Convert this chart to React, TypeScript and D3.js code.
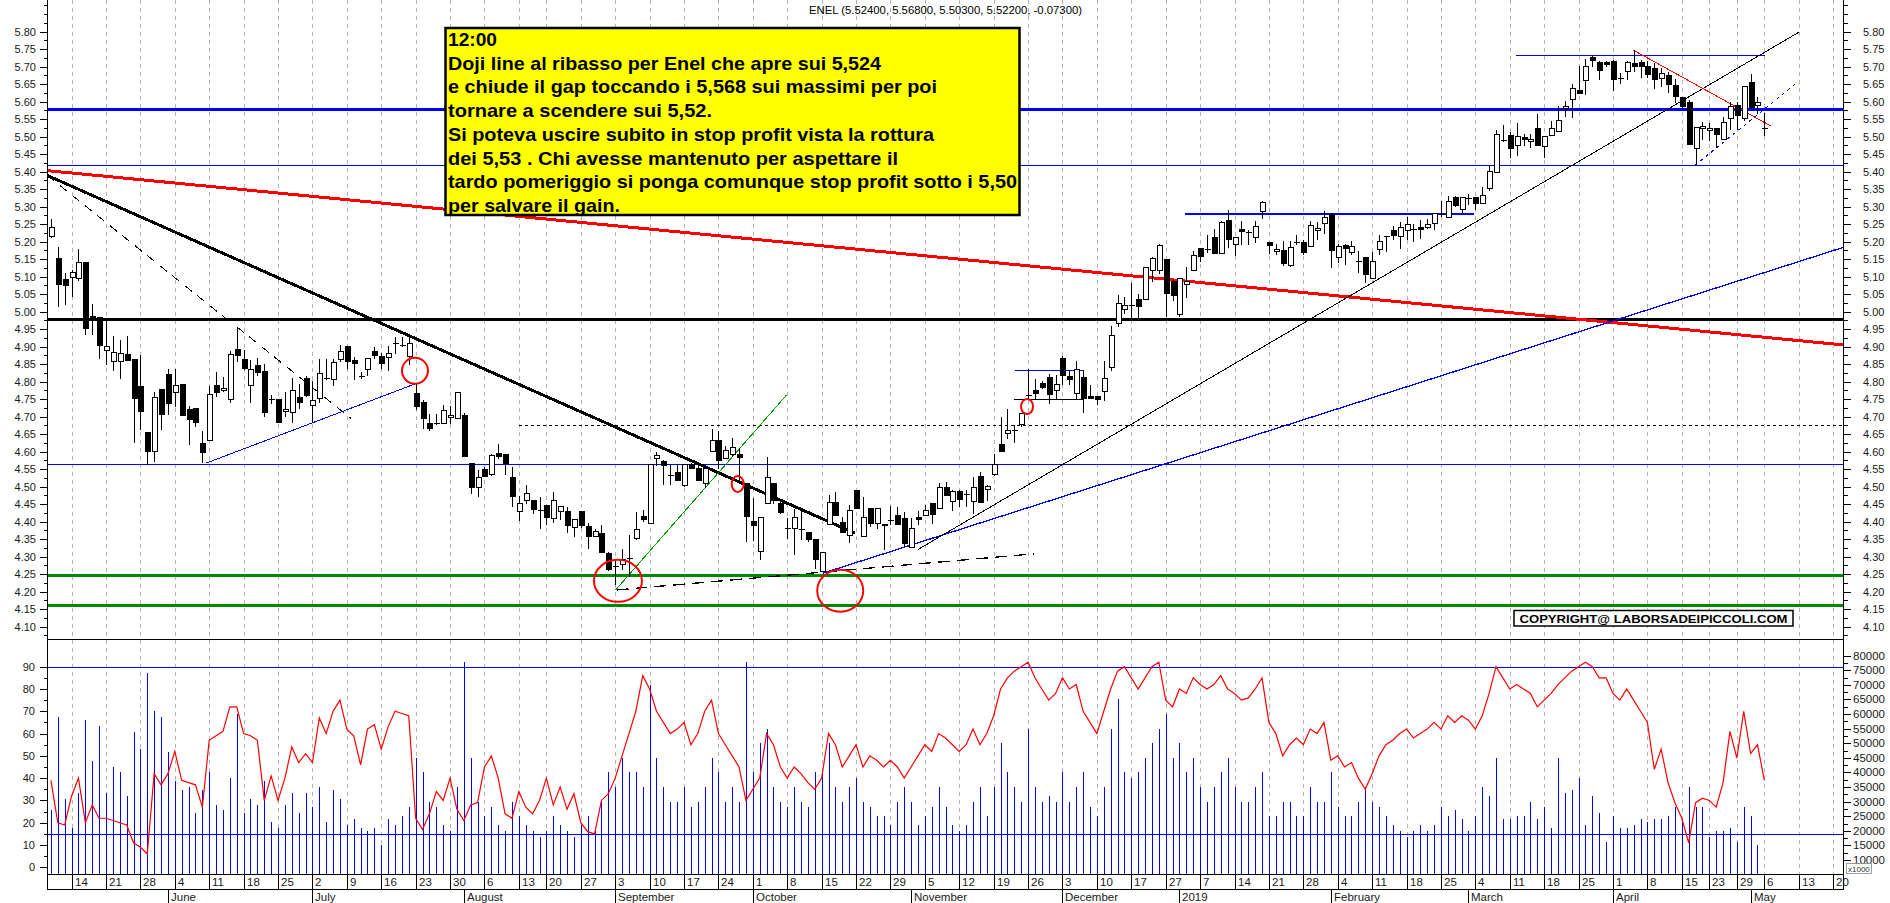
import React from "react";
import * as d3 from "d3";

// ---------------- DATA ----------------
const START_DATE = "2018-05-09";
const HOLIDAYS = ["2018-08-15", "2018-12-24", "2018-12-25", "2018-12-26", "2018-12-31", "2019-01-01", "2019-04-19", "2019-04-22", "2019-05-01"];
const N_SLOTS = 261; // bars + empty future slots on the x axis

const OPEN = [5.216,5.152,5.092,5.098,5.094,5.140,4.985,4.984,4.889,4.858,4.858,4.877,4.864,4.786,4.654,4.601,4.778,4.822,4.769,4.793,4.721,4.723,4.624,4.633,4.789,4.774,4.749,4.892,4.864,4.788,4.845,4.828,4.750,4.748,4.715,4.711,4.755,4.809,4.732,4.751,4.810,4.805,4.864,4.902,4.862,4.816,4.835,4.887,4.871,4.868,4.911,4.906,4.871,4.767,4.742,4.681,4.681,4.681,4.698,4.694,4.704,4.567,4.498,4.548,4.534,4.595,4.593,4.527,4.430,4.460,4.462,4.432,4.447,4.409,4.428,4.428,4.384,4.428,4.386,4.359,4.365,4.310,4.272,4.279,4.294,4.353,4.414,4.395,4.580,4.571,4.534,4.542,4.504,4.563,4.551,4.508,4.601,4.633,4.580,4.592,4.592,4.508,4.401,4.315,4.452,4.508,4.452,4.381,4.380,4.378,4.369,4.348,4.258,4.393,4.456,4.399,4.361,4.489,4.357,4.437,4.395,4.393,4.405,4.418,4.409,4.327,4.411,4.418,4.451,4.439,4.498,4.458,4.485,4.478,4.458,4.529,4.491,4.534,4.622,4.652,4.661,4.679,4.761,4.774,4.795,4.811,4.774,4.866,4.814,4.767,4.811,4.759,4.757,4.773,4.841,4.967,5.007,5.014,5.035,5.035,5.117,5.119,5.150,5.085,4.992,5.077,5.119,5.180,5.179,5.212,5.165,5.260,5.193,5.235,5.228,5.212,5.285,5.197,5.171,5.174,5.131,5.200,5.197,5.186,5.233,5.251,5.277,5.155,5.189,5.170,5.144,5.155,5.096,5.178,5.216,5.231,5.216,5.231,5.235,5.241,5.241,5.252,5.279,5.269,5.326,5.292,5.326,5.326,5.309,5.353,5.399,5.490,5.504,5.475,5.498,5.485,5.524,5.471,5.504,5.515,5.580,5.605,5.633,5.660,5.725,5.713,5.711,5.715,5.668,5.686,5.709,5.713,5.700,5.694,5.665,5.675,5.645,5.612,5.599,5.466,5.523,5.519,5.523,5.492,5.553,5.589,5.553,5.656,5.589,5.524];
const HIGH = [5.264,5.184,5.111,5.119,5.178,5.140,5.022,4.984,4.980,4.932,4.919,4.930,4.864,4.877,4.654,4.772,4.778,4.835,4.835,4.793,4.732,4.723,4.660,4.789,4.828,4.814,4.887,4.957,4.892,4.862,4.869,4.850,4.763,4.748,4.772,4.812,4.793,4.816,4.801,4.866,4.866,4.866,4.904,4.902,4.871,4.829,4.866,4.900,4.881,4.902,4.928,4.928,4.934,4.797,4.749,4.709,4.709,4.734,4.730,4.772,4.711,4.567,4.549,4.557,4.593,4.622,4.593,4.555,4.473,4.504,4.462,4.470,4.447,4.485,4.445,4.441,4.407,4.428,4.395,4.378,4.392,4.313,4.290,4.323,4.363,4.428,4.433,4.563,4.599,4.576,4.563,4.565,4.563,4.569,4.559,4.553,4.666,4.660,4.616,4.639,4.612,4.508,4.468,4.412,4.584,4.508,4.460,4.412,4.435,4.432,4.369,4.348,4.312,4.477,4.485,4.414,4.447,4.489,4.470,4.437,4.437,4.393,4.445,4.443,4.428,4.411,4.432,4.449,4.451,4.510,4.513,4.491,4.491,4.492,4.529,4.542,4.506,4.593,4.700,4.721,4.675,4.708,4.835,4.809,4.803,4.822,4.818,4.873,4.833,4.860,4.833,4.790,4.757,4.860,4.959,5.047,5.043,5.081,5.051,5.127,5.155,5.193,5.150,5.092,5.094,5.129,5.174,5.180,5.218,5.235,5.260,5.291,5.212,5.258,5.233,5.258,5.317,5.197,5.193,5.203,5.201,5.220,5.205,5.260,5.256,5.287,5.283,5.193,5.193,5.201,5.174,5.155,5.170,5.220,5.216,5.246,5.256,5.271,5.250,5.262,5.265,5.281,5.315,5.332,5.332,5.325,5.336,5.326,5.357,5.416,5.519,5.534,5.513,5.540,5.507,5.507,5.564,5.500,5.545,5.587,5.601,5.650,5.702,5.723,5.730,5.715,5.715,5.719,5.681,5.715,5.747,5.719,5.715,5.711,5.696,5.686,5.664,5.614,5.604,5.526,5.542,5.540,5.526,5.557,5.599,5.599,5.643,5.679,5.614,5.568];
const LOW = [5.212,5.014,5.018,5.043,5.087,4.934,4.934,4.864,4.847,4.831,4.807,4.858,4.624,4.662,4.561,4.572,4.662,4.706,4.729,4.704,4.620,4.671,4.569,4.633,4.757,4.772,4.738,4.856,4.833,4.740,4.816,4.698,4.736,4.683,4.700,4.683,4.723,4.757,4.683,4.740,4.805,4.788,4.856,4.835,4.805,4.808,4.816,4.864,4.837,4.830,4.879,4.898,4.849,4.719,4.666,4.658,4.675,4.679,4.679,4.694,4.586,4.479,4.470,4.527,4.532,4.580,4.534,4.441,4.403,4.451,4.422,4.378,4.390,4.395,4.405,4.369,4.357,4.382,4.323,4.355,4.312,4.260,4.218,4.262,4.243,4.348,4.399,4.395,4.559,4.504,4.504,4.515,4.498,4.551,4.515,4.496,4.601,4.552,4.578,4.586,4.510,4.342,4.344,4.292,4.452,4.452,4.422,4.350,4.306,4.348,4.342,4.266,4.258,4.393,4.416,4.367,4.340,4.437,4.357,4.386,4.380,4.319,4.390,4.390,4.327,4.327,4.392,4.416,4.393,4.439,4.475,4.430,4.441,4.443,4.422,4.456,4.458,4.531,4.601,4.637,4.624,4.672,4.748,4.750,4.778,4.736,4.750,4.790,4.790,4.750,4.710,4.750,4.734,4.746,4.830,4.957,4.993,4.978,4.978,5.035,5.085,5.108,4.986,5.032,4.986,5.039,5.119,5.142,5.169,5.167,5.165,5.182,5.159,5.190,5.192,5.197,5.266,5.165,5.163,5.132,5.129,5.190,5.163,5.184,5.205,5.222,5.126,5.140,5.134,5.163,5.110,5.081,5.096,5.161,5.172,5.205,5.180,5.205,5.199,5.208,5.235,5.233,5.271,5.269,5.300,5.281,5.304,5.290,5.309,5.344,5.397,5.486,5.439,5.446,5.473,5.469,5.475,5.439,5.504,5.515,5.555,5.553,5.622,5.620,5.698,5.662,5.700,5.631,5.652,5.662,5.685,5.669,5.669,5.637,5.643,5.624,5.595,5.582,5.475,5.418,5.492,5.488,5.469,5.492,5.519,5.519,5.544,5.580,5.565,5.503];
const CLOSE = [5.241,5.078,5.075,5.113,5.142,4.951,4.980,4.904,4.902,4.883,4.881,4.860,4.751,4.715,4.601,4.755,4.706,4.738,4.789,4.704,4.692,4.683,4.597,4.763,4.770,4.782,4.877,4.875,4.837,4.835,4.826,4.713,4.746,4.683,4.721,4.774,4.742,4.761,4.746,4.824,4.808,4.856,4.887,4.858,4.852,4.812,4.866,4.875,4.852,4.881,4.908,4.904,4.909,4.729,4.694,4.666,4.680,4.717,4.704,4.770,4.586,4.498,4.527,4.529,4.590,4.586,4.565,4.472,4.451,4.481,4.435,4.431,4.411,4.460,4.443,4.390,4.407,4.388,4.357,4.372,4.312,4.264,4.270,4.291,4.295,4.378,4.405,4.563,4.588,4.561,4.530,4.519,4.563,4.551,4.517,4.553,4.633,4.574,4.603,4.612,4.584,4.414,4.388,4.412,4.525,4.462,4.426,4.380,4.411,4.374,4.350,4.292,4.312,4.456,4.418,4.369,4.432,4.439,4.412,4.395,4.437,4.388,4.404,4.392,4.338,4.382,4.405,4.433,4.420,4.498,4.475,4.485,4.464,4.477,4.498,4.456,4.502,4.563,4.601,4.660,4.660,4.708,4.763,4.767,4.784,4.763,4.792,4.818,4.805,4.835,4.752,4.753,4.748,4.809,4.932,5.024,5.017,5.018,5.016,5.127,5.152,5.190,5.052,5.047,5.094,5.087,5.161,5.157,5.178,5.167,5.254,5.205,5.211,5.228,5.227,5.243,5.311,5.190,5.178,5.138,5.184,5.199,5.169,5.245,5.239,5.268,5.174,5.187,5.180,5.187,5.140,5.106,5.144,5.201,5.214,5.218,5.241,5.250,5.234,5.235,5.250,5.281,5.275,5.315,5.304,5.325,5.323,5.309,5.332,5.401,5.507,5.486,5.465,5.500,5.492,5.492,5.475,5.500,5.523,5.547,5.585,5.637,5.624,5.702,5.717,5.690,5.706,5.664,5.667,5.711,5.700,5.700,5.679,5.664,5.681,5.648,5.614,5.587,5.479,5.526,5.528,5.524,5.507,5.542,5.585,5.561,5.643,5.584,5.599,5.522];

// volume in thousands of shares
const VOLUME = [27,59,31,21,33,58,44,56,33,42,40,32,54,48,74,61,59,47,37,34,35,26,34,40,29,27,38,60,26,31,29,37,23,21,29,33,26,33,28,35,23,34,31,22,24,21,20,21,15,24,22,25,28,45,40,30,28,22,20,35,78,45,30,25,28,22,20,30,25,22,20,18,20,25,22,20,18,22,25,20,30,40,35,45,40,40,35,70,45,35,30,30,35,28,30,35,45,40,30,35,30,78,40,50,55,35,30,28,35,30,28,40,40,50,35,30,35,38,30,28,25,25,22,30,35,30,22,25,28,35,28,22,20,22,30,35,25,35,50,40,35,30,55,35,30,32,30,40,30,35,40,28,25,35,55,65,40,38,40,45,50,55,60,45,50,40,45,35,30,35,40,45,35,30,30,35,40,25,25,30,30,25,25,35,30,30,40,28,25,25,30,35,30,28,25,22,20,18,20,22,20,22,28,25,27,24,20,25,35,32,45,24,24,25,25,30,24,28,21,45,33,34,38,22,32,26,16,25,21,21,22,24,23,24,24,25,28,24,35,28,28,18,20,20,21,16,28,25,15,4];
const RSI = [39,20,19,32,40,20,28,22,22,21,20,19,11,9,6,42,37,42,52,39,38,37,27,57,59,61,72,72,60,59,57,30,41,30,40,54,47,51,47,67,60,70,75,62,59,46,62,64,53,63,70,69,68,22,17,24,34,30,40,26,21,28,29,45,50,40,24,22,34,27,24,30,40,28,36,26,33,20,16,15,30,33,40,50,60,70,86,80,70,65,60,62,65,55,60,70,75,60,55,50,45,30,35,40,60,55,45,40,45,42,38,35,40,60,55,45,50,55,45,50,48,45,48,45,40,45,50,55,52,60,58,55,52,55,62,55,60,68,80,85,88,90,92,85,80,75,78,85,80,82,70,65,60,70,80,88,90,85,80,85,90,92,75,72,80,78,85,82,80,82,86,80,78,75,76,80,85,65,60,50,55,58,55,62,60,65,48,50,45,47,40,35,42,50,55,57,60,62,58,60,62,65,62,68,65,68,66,62,68,78,90,85,80,82,80,78,72,75,78,82,85,88,90,92,90,85,85,78,75,80,75,70,65,44,53,38,29,22,11,29,31,30,27,38,61,49,70,51,55,39];

const PRICE_TICKS = d3.range(4.10, 5.8001, 0.05);
const PRICE_MINOR = d3.range(4.075, 5.89, 0.025);
const RSI_TICKS = [0, 10, 20, 30, 40, 50, 60, 70, 80, 90];
const VOL_TICKS = [10, 15, 20, 25, 30, 35, 40, 45, 50, 55, 60, 65, 70, 75, 80];
const MONTH_NAMES = ["January", "February", "March", "April", "May", "June", "July", "August", "September", "October", "November", "December"];

const TITLE = "ENEL (5.52400, 5.56800, 5.50300, 5.52200, -0.07300)";
const NOTE_LINES = [
  "12:00",
  "Doji line al ribasso per Enel che apre sui 5,524",
  "e chiude il gap toccando i 5,568 sui massimi per poi",
  "tornare a scendere sui 5,52.",
  "Si poteva uscire subito in stop profit vista la rottura",
  "dei 5,53 . Chi avesse mantenuto per aspettare il",
  "tardo pomeriggio si ponga comunque stop profit sotto i 5,50",
  "per salvare il gain.",
];
const NOTE_WIDTHS = [49, 433, 489, 264, 486, 450, 569, 172];
const COPYRIGHT = "COPYRIGHT@ LABORSADEIPICCOLI.COM";

type Seg = { a: [number, number]; b: [number, number]; color: string; w: number; dash?: string };
const TREND_LINES: Seg[] = [
  { a: [-0.5, 5.403], b: [260.5, 4.905], color: "#ff0000", w: 3 },
  { a: [-0.5, 5.389], b: [116.85, 4.367], color: "#000", w: 3 },
  { a: [-0.5, 5.389], b: [25.7, 4.976], color: "#000", w: 1, dash: "9,7" },
  { a: [27, 4.957], b: [43.6, 4.695], color: "#000", w: 1, dash: "9,7" },
  { a: [22.5, 4.567], b: [53.1, 4.795], color: "#0000ff", w: 1 },
  { a: [82.06, 4.205], b: [106.9, 4.762], color: "#009900", w: 1 },
  { a: [82.2, 4.205], b: [142.8, 4.308], color: "#000", w: 1.3, dash: "12,7" },
  { a: [112.2, 4.253], b: [260.5, 5.184], color: "#0000ff", w: 1.3 },
  { a: [126.05, 4.321], b: [253.96, 5.798], color: "#000", w: 1 },
  { a: [229.9, 5.748], b: [249.9, 5.531], color: "#ff0000", w: 1 },
  { a: [238.9, 5.418], b: [253.9, 5.657], color: "#0000ff", w: 1, dash: "3,4" },
];
type HLine = { p: number; from: number; to: number; color: string; w: number; dash?: string };
const H_LINES: HLine[] = [
  { p: 5.579, from: -0.5, to: 260.5, color: "#0000ff", w: 3 },
  { p: 5.418, from: -0.5, to: 260.5, color: "#0000ff", w: 1.3 },
  { p: 4.977, from: -0.5, to: 260.5, color: "#000", w: 3 },
  { p: 4.675, from: 67.96, to: 260.5, color: "#000", w: 1, dash: "3,3" },
  { p: 4.564, from: -0.5, to: 260.5, color: "#0000ff", w: 1.3 },
  { p: 4.245, from: -0.5, to: 260.5, color: "#008800", w: 3 },
  { p: 4.160, from: -0.5, to: 260.5, color: "#008800", w: 3 },
  { p: 4.833, from: 140.1, to: 150.0, color: "#0000ff", w: 1.3 },
  { p: 4.750, from: 139.96, to: 150.0, color: "#000", w: 1.3 },
  { p: 5.279, from: 164.8, to: 206.8, color: "#0000ff", w: 1.3 },
  { p: 5.733, from: 212.9, to: 249.1, color: "#0000ff", w: 1.3 },
];
type Ell = { i: number; p: number; rx: number; ry: number };
const CIRCLES: Ell[] = [
  { i: 52.9, p: 4.831, rx: 13, ry: 13 },
  { i: 99.8, p: 4.508, rx: 6, ry: 8 },
  { i: 141.85, p: 4.729, rx: 6, ry: 7.5 },
  { i: 82.4, p: 4.231, rx: 24, ry: 21 },
  { i: 114.7, p: 4.203, rx: 23, ry: 21 },
];

// ---------------- LAYOUT ----------------
const W = 1890, H = 903;
const AX_L = 47.5, AX_R = 1843.5;
const PRICE_SEP = 639.5;
const BOTTOM = 874.5, DATE_SEP = 889.5;
const FONT = "'Liberation Sans', Arial, sans-serif";

function buildDates(n: number): Date[] {
  const hol = new Set(HOLIDAYS);
  const out: Date[] = [];
  let d = new Date(START_DATE + "T12:00:00Z");
  while (out.length < n) {
    const dow = d.getUTCDay();
    const iso = d.toISOString().slice(0, 10);
    if (dow !== 0 && dow !== 6 && !hol.has(iso)) out.push(new Date(d.getTime()));
    d = new Date(d.getTime() + 86400000);
  }
  return out;
}

export default function App() {
  const dates = buildDates(N_SLOTS);
  const x = d3.scaleLinear().domain([-0.5, N_SLOTS - 0.5]).range([AX_L, AX_R]);
  const yP = d3.scaleLinear().domain([4.10, 5.80]).range([626.7, 31.7]);
  const yR = d3.scaleLinear().domain([0, 90]).range([867.3, 666.7]);
  const yV = d3.scaleLinear().domain([10, 80]).range([860, 655.7]);

  const weekTicks: number[] = [];
  const monthTicks: number[] = [];
  let lastWeek = -10;
  for (let i = 1; i < dates.length; i++) {
    const w0 = d3.utcMonday.floor(dates[i - 1]).getTime();
    const w1 = d3.utcMonday.floor(dates[i]).getTime();
    if (w0 !== w1 && i - lastWeek >= 3) { weekTicks.push(i); lastWeek = i; }
    if (dates[i].getUTCMonth() !== dates[i - 1].getUTCMonth()) monthTicks.push(i);
  }
  const px = (i: number) => Math.round(x(i)) + 0.5;

  const rsiLine = d3.line<number>().x((_, i) => x(i)).y((v) => yR(v))(RSI) || "";

  return (
    <svg width={W} height={H} style={{ display: "block", position: "absolute", left: 0, top: 0, background: "#fff" }} fontFamily={FONT}>
      <rect x={0} y={0} width={W} height={H} fill="#fff" />
      {weekTicks.map((i) => (
        <line key={"g" + i} x1={px(i)} x2={px(i)} y1={0} y2={BOTTOM} stroke="#b4b4b4" strokeDasharray="4,4" />
      ))}

      <g shapeRendering="crispEdges">
        {H_LINES.map((h, k) => (
          <line key={"h" + k} x1={x(h.from)} x2={x(h.to)} y1={yP(h.p)} y2={yP(h.p)} stroke={h.color} strokeWidth={h.w} strokeDasharray={h.dash} />
        ))}
      </g>
      <g shapeRendering="crispEdges">
        {TREND_LINES.map((s, k) => (
          <line key={"t" + k} x1={x(s.a[0])} y1={yP(s.a[1])} x2={x(s.b[0])} y2={yP(s.b[1])} stroke={s.color} strokeWidth={s.w} strokeDasharray={s.dash} />
        ))}
      </g>

      <g shapeRendering="crispEdges">
        {OPEN.map((o, i) => {
          const c = CLOSE[i];
          const cx = px(i);
          const top = yP(Math.max(o, c));
          const bot = yP(Math.min(o, c));
          const up = c >= o;
          const h = Math.max(bot - top, 0);
          return (
            <g key={"c" + i}>
              <line x1={cx} x2={cx} y1={yP(HIGH[i])} y2={yP(LOW[i])} stroke="#000" strokeWidth={1} />
              {h < 1.5 ? (
                <line x1={cx - 3} x2={cx + 3} y1={Math.round(top) + 0.5} y2={Math.round(top) + 0.5} stroke="#000" strokeWidth={1.5} />
              ) : (
                <rect x={cx - 2.5} y={top} width={5} height={h} fill={up ? "#fff" : "#000"} stroke="#000" strokeWidth={1} />
              )}
            </g>
          );
        })}
      </g>

      {CIRCLES.map((e, k) => (
        <ellipse key={"e" + k} cx={x(e.i)} cy={yP(e.p)} rx={e.rx} ry={e.ry} fill="none" stroke="#ff0000" strokeWidth={2} />
      ))}

      <text x={809} y={14} fontSize={10} fill="#000" textLength={273} lengthAdjust="spacingAndGlyphs">{TITLE}</text>

      <rect x={445.5} y={28} width={574} height={187} fill="#ffff00" stroke="#000" strokeWidth={2.5} />
      {NOTE_LINES.map((t, k) => (
        <text key={"n" + k} x={448} y={46 + k * 23.7} fontSize={19} fontWeight="bold" fill="#000" textLength={NOTE_WIDTHS[k]} lengthAdjust="spacingAndGlyphs">{t}</text>
      ))}

      <rect x={1514} y={610.5} width={279} height={15.5} fill="#fff" stroke="#000" strokeWidth={1.5} />
      <text x={1653.5} y={622.5} fontSize={11.5} fontWeight="bold" textAnchor="middle" fill="#000" textLength={268} lengthAdjust="spacingAndGlyphs">{COPYRIGHT}</text>

      <g shapeRendering="crispEdges">
        <line x1={AX_L} x2={AX_R} y1={Math.round(yR(90)) + 0.5} y2={Math.round(yR(90)) + 0.5} stroke="#0000ff" strokeWidth={1} />
        {VOLUME.map((v, i) => {
          const yt = yV(v);
          if (yt >= BOTTOM) return null;
          return <line key={"v" + i} x1={px(i)} x2={px(i)} y1={BOTTOM} y2={yt} stroke="#0000ff" strokeWidth={1.3} />;
        })}
        <line x1={AX_L} x2={AX_R} y1={Math.round(yR(15)) + 0.5} y2={Math.round(yR(15)) + 0.5} stroke="#0000ff" strokeWidth={1} />
      </g>
      <path d={rsiLine} fill="none" stroke="#ff0000" strokeWidth={1.2} />

      <g shapeRendering="crispEdges" stroke="#000" strokeWidth={1}>
        <line x1={AX_L} x2={AX_L} y1={0} y2={DATE_SEP} />
        <line x1={AX_R} x2={AX_R} y1={0} y2={DATE_SEP} />
        <line x1={AX_L} x2={AX_R} y1={PRICE_SEP} y2={PRICE_SEP} />
        <line x1={AX_L} x2={AX_R} y1={BOTTOM} y2={BOTTOM} />
        <line x1={AX_L} x2={AX_R} y1={DATE_SEP} y2={DATE_SEP} />
      </g>

      <g shapeRendering="crispEdges" stroke="#000">
        {PRICE_MINOR.map((p, k) => {
          const y = Math.round(yP(p)) + 0.5;
          if (y > PRICE_SEP - 2) return null;
          return (
            <g key={"pm" + k}>
              <line x1={AX_L - 4} x2={AX_L} y1={y} y2={y} />
              <line x1={AX_R} x2={AX_R + 4} y1={y} y2={y} />
            </g>
          );
        })}
        {PRICE_TICKS.map((p, k) => {
          const y = Math.round(yP(p)) + 0.5;
          return (
            <g key={"pt" + k}>
              <line x1={AX_L - 8} x2={AX_L} y1={y} y2={y} />
              <line x1={AX_R} x2={AX_R + 7} y1={y} y2={y} />
            </g>
          );
        })}
      </g>
      {PRICE_TICKS.map((p, k) => (
        <g key={"pl" + k} fontSize={11} fill="#1a1a1a">
          <text x={36} y={yP(p) + 4} textAnchor="end">{p.toFixed(2)}</text>
          <text x={1863} y={yP(p) + 4}>{p.toFixed(2)}</text>
        </g>
      ))}

      <g shapeRendering="crispEdges" stroke="#000">
        {d3.range(0, 91, 5).map((r) => {
          const y = Math.round(yR(r)) + 0.5;
          return <line key={"rt" + r} x1={AX_L - (r % 10 === 0 ? 8 : 4)} x2={AX_L} y1={y} y2={y} />;
        })}
        {d3.range(10, 82.5, 2.5).map((v) => {
          const y = Math.round(yV(v)) + 0.5;
          return <line key={"vt" + v} x1={AX_R} x2={AX_R + (v % 5 === 0 ? 7 : 4)} y1={y} y2={y} />;
        })}
      </g>
      {RSI_TICKS.map((r) => (
        <text key={"rl" + r} x={35} y={yR(r) + 4} textAnchor="end" fontSize={11} fill="#1a1a1a">{r}</text>
      ))}
      {VOL_TICKS.map((v) => (
        <text key={"vl" + v} x={1853} y={yV(v) + 4} fontSize={11.5} fill="#1a1a1a">{String(v * 1000)}</text>
      ))}
      <rect x={1846.5} y={863.5} width={25} height={10} fill="#fff" stroke="#888" strokeWidth={0.8} />
      <text x={1848} y={871.5} fontSize={8} fill="#333">x1000</text>

      <g shapeRendering="crispEdges" stroke="#000">
        {weekTicks.map((i) => (
          <line key={"wt" + i} x1={px(i)} x2={px(i)} y1={BOTTOM} y2={DATE_SEP} />
        ))}
        {monthTicks.map((i) => (
          <line key={"mt" + i} x1={px(i)} x2={px(i)} y1={DATE_SEP} y2={H} />
        ))}
      </g>
      {weekTicks.map((i) => (
        <text key={"wl" + i} x={px(i) + 2.5} y={886} fontSize={11.5} fill="#1a1a1a">{dates[i].getUTCDate()}</text>
      ))}
      {monthTicks.map((i) => {
        const m = dates[i].getUTCMonth();
        return (
          <text key={"ml" + i} x={px(i) + 2.5} y={901} fontSize={11.5} fill="#1a1a1a">
            {m === 0 ? String(dates[i].getUTCFullYear()) : MONTH_NAMES[m]}
          </text>
        );
      })}
    </svg>
  );
}
